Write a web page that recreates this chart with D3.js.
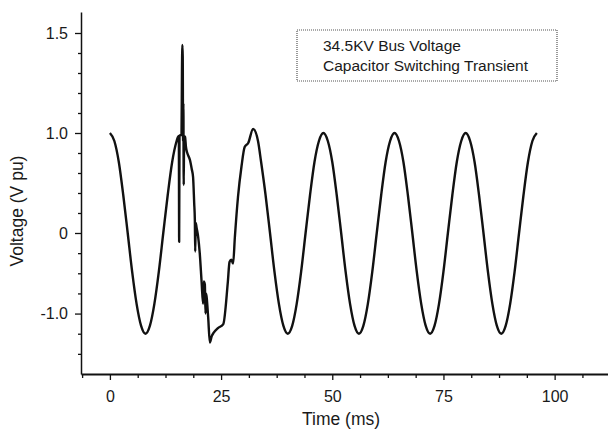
<!DOCTYPE html>
<html>
<head>
<meta charset="utf-8">
<script src="https://cdn.jsdelivr.net/npm/d3@7"></script>
<style>
  html, body { margin: 0; padding: 0; background: #fff; }
  svg { display: block; font-family: 'Liberation Sans', Arial, sans-serif; }
</style>
</head>
<body>
<svg id="chart" width="608" height="432"></svg>
<script>
// bus voltage (ms, V pu as labelled on the axis)
const timeMs = [
  0, 1, 2, 3, 4, 5, 6, 7, 8, 9, 10, 11, 12, 13, 14, 15,
  15.3, 15.5, 15.57, 15.65, 15.9, 16.1, 16.2, 16.3, 16.38, 16.45, 16.52, 16.6, 16.68, 16.9,
  17.1, 17.4, 18.0, 18.4, 18.7, 18.95, 19.1, 19.18, 19.3, 19.5, 19.85, 20.2, 20.6, 20.95,
  21.1, 21.35, 21.5, 21.6, 22.1, 22.47, 22.9, 23.3, 24.3, 25.5, 26.5, 26.9, 27.3, 27.7,
  28.1, 28.8, 29.6, 30.3, 31.1, 32.2, 33.3, 34, 35,
  36, 37, 38, 39, 40, 41, 42, 43, 44, 45, 46, 47, 48, 49, 50, 51,
  52, 53, 54, 55, 56, 57, 58, 59, 60, 61, 62, 63, 64, 65, 66, 67,
  68, 69, 70, 71, 72, 73, 74, 75, 76, 77, 78, 79, 80, 81, 82, 83,
  84, 85, 86, 87, 88, 89, 90, 91, 92, 93, 94, 95, 96
];
const voltagePu = [
  1.00, 0.92, 0.71, 0.38, 0.00, -0.48, -0.88, -1.15, -1.25, -1.15, -0.88, -0.48, 0.00, 0.38, 0.71, 0.92,
  0.96, 0.97, -0.11, 0.97, 0.98, 0.98, 1.30, 1.44, 1.38, 0.92, 1.15, 0.48, 0.97, 0.96,
  0.86, 0.80, 0.73, 0.64, 0.56, 0.30, 0.13, -0.23, 0.10, 0.05, -0.05, -0.25, -0.59, -0.88,
  -0.60, -0.64, -1.00, -0.75, -1.05, -1.36, -1.28, -1.24, -1.18, -1.13, -0.62, -0.36, -0.33, -0.38,
  -0.05, 0.36, 0.67, 0.86, 0.90, 1.02, 0.92, 0.71, 0.38,
  0.00, -0.48, -0.88, -1.15, -1.25, -1.15, -0.88, -0.48, 0.00, 0.38, 0.71, 0.92, 1.00, 0.92, 0.71, 0.38,
  0.00, -0.48, -0.88, -1.15, -1.25, -1.15, -0.88, -0.48, 0.00, 0.38, 0.71, 0.92, 1.00, 0.92, 0.71, 0.38,
  0.00, -0.48, -0.88, -1.15, -1.25, -1.15, -0.88, -0.48, 0.00, 0.38, 0.71, 0.92, 1.00, 0.92, 0.71, 0.38,
  0.00, -0.48, -0.88, -1.15, -1.25, -1.15, -0.88, -0.48, 0.00, 0.38, 0.71, 0.92, 1.00
];

const xTickValues = [0, 25, 50, 75, 100];
const xMinorValues = [-6.25, 6.25, 12.5, 18.75, 31.25, 37.5, 43.75, 56.25, 62.5, 68.75, 81.25, 87.5, 93.75, 106.25];
const yTickValues = [1.5, 1.0, 0, -1.0];
const yTickLabels = ['1.5', '1.0', '0', '-1.0'];
const yMinorValues = [1.4, 1.3, 1.2, 1.1, 0.8, 0.6, 0.4, 0.2, -0.25, -0.5, -0.75, -1.25, -1.5];
const legendLines = ['34.5KV Bus Voltage', 'Capacitor Switching Transient'];

let svg = d3.select('#chart');

let x = d3.scaleLinear().domain([-6.5, 112]).range([81, 608]);
// the printed axis is not evenly spaced, so the scale is piecewise
let y = d3.scaleLinear().domain([-1.75, 0, 1, 1.605]).range([374, 233, 133, 12]);

// minor ticks first, under the main axes
svg.append('g')
  .attr('transform', 'translate(0,374)')
  .call(d3.axisBottom(x).tickValues(xMinorValues).tickSize(4).tickFormat(''))
  .call(g => g.select('.domain').remove());

svg.append('g')
  .attr('transform', 'translate(81,0)')
  .call(d3.axisLeft(y).tickValues(yMinorValues).tickSize(3).tickFormat(''))
  .call(g => g.select('.domain').remove());

let xAxis = svg.append('g')
  .attr('transform', 'translate(0,374)')
  .call(d3.axisBottom(x).tickValues(xTickValues).tickSize(6).tickSizeOuter(0).tickPadding(11));

let yAxis = svg.append('g')
  .attr('transform', 'translate(81,0)')
  .call(d3.axisLeft(y).tickValues(yTickValues).tickSize(6).tickSizeOuter(0).tickPadding(7)
    .tickFormat((d, i) => yTickLabels[i]));

svg.selectAll('.tick line').attr('stroke', '#111').attr('stroke-width', 1.3);
xAxis.select('.domain').attr('stroke', '#111').attr('stroke-width', 2);
yAxis.select('.domain').attr('stroke', '#111').attr('stroke-width', 1.5);
svg.selectAll('.tick text')
  .attr('font-family', "'Liberation Sans', Arial, sans-serif")
  .attr('font-size', 16)
  .attr('fill', '#1a1a1a');

svg.append('text')
  .attr('x', 341)
  .attr('y', 425)
  .attr('text-anchor', 'middle')
  .attr('font-size', 17.5)
  .attr('fill', '#1a1a1a')
  .text('Time (ms)');

svg.append('text')
  .attr('transform', 'translate(23,211) rotate(-90)')
  .attr('text-anchor', 'middle')
  .attr('font-size', 17.5)
  .attr('fill', '#1a1a1a')
  .text('Voltage (V pu)');

let line = d3.line()
  .x((d, i) => x(timeMs[i]))
  .y(d => y(d))
  .curve(d3.curveMonotoneX);

svg.append('path')
  .datum(voltagePu)
  .attr('fill', 'none')
  .attr('stroke', '#111')
  .attr('stroke-width', 2.4)
  .attr('stroke-linejoin', 'round')
  .attr('d', line);

// legend box
svg.append('rect')
  .attr('x', 297)
  .attr('y', 30)
  .attr('width', 260)
  .attr('height', 51)
  .attr('fill', 'none')
  .attr('stroke', '#555')
  .attr('stroke-width', 1.2)
  .attr('stroke-dasharray', '1,1');

svg.selectAll('.legend-text')
  .data(legendLines)
  .enter()
  .append('text')
  .attr('class', 'legend-text')
  .attr('x', 323)
  .attr('y', (d, i) => 51 + i * 20)
  .attr('font-size', 15.5)
  .attr('fill', '#1a1a1a')
  .text(d => d);
</script>
</body>
</html>
